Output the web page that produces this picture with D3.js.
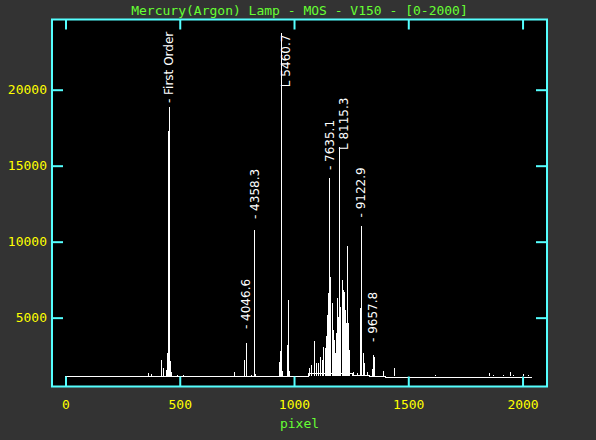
<!DOCTYPE html>
<html>
<head>
<meta charset="utf-8">
<script src="https://cdn.jsdelivr.net/npm/d3@7"></script>
<style>
  body { margin: 0; background: #333333; }
  svg { display: block; }
</style>
</head>
<body>
<div id="chart"></div>
<script>
// baseline of the extracted spectrum (pixel, counts)
var basePix    = [0,    480,  1065, 1255, 1330, 1400, 2040];
var baseCounts = [1130, 1160, 1350, 1250, 1150, 1120, 1120];

// emission lines (pixel, peak counts)
var linePix = [362, 375, 418, 428, 440, 446, 450, 452, 457, 463, 487, 514,
  737, 782, 788, 792, 810, 825, 828, 935, 938, 942, 946, 971, 975, 979,
  1067, 1073, 1089, 1096, 1106, 1114, 1121, 1128, 1136, 1140, 1143, 1147, 1150, 1155, 1159,
  1165, 1172, 1176, 1179, 1184, 1187, 1191, 1197, 1203, 1209, 1211, 1214, 1220, 1223,
  1226, 1231, 1235, 1238, 1241, 1260, 1274, 1290, 1293, 1301, 1306, 1318, 1340, 1344,
  1349, 1388, 1439, 1617, 1853, 1872, 1916, 1945, 1960, 2003, 2025];
var lineCounts = [1330, 1300, 2220, 1690, 1560, 2680, 17300, 18850, 2150, 1450, 1250, 1200,
  1450, 2200, 3330, 1600, 1250, 10800, 1300, 2100, 2800, 23700, 1500, 3200, 6160, 1500,
  1700, 1890, 3490, 2020, 2020, 2430, 2200, 3050, 2985, 3800, 5180, 4190, 6600, 14170, 7700,
  5970, 4190, 3500, 2680, 4000, 6300, 5070, 16200, 5720, 7480, 5200, 6820, 6710, 5500,
  4650, 9700, 4650, 3300, 2870, 1400, 1350, 5620, 11050, 2680, 2020, 1450, 1600, 2550,
  2430, 1490, 1720, 1230, 1340, 1250, 1250, 1410, 1250, 1280, 1230];

// line identifications
var labelText   = ["- First Order", "- 4046.6", "- 4358.3", "L 5460.7", "- 7635.1", "L 8115.3", "- 9122.9", "- 9657.8"];
var labelPix    = [452, 788, 825, 942, 1155, 1197, 1293, 1344];
var labelCounts = [19120, 4250, 11490, 20170, 14710, 16030, 11590, 3400];

var xTicks = [0, 500, 1000, 1500, 2000];
var yTicks = [5000, 10000, 15000, 20000];

var W = 596, H = 440;
var plotL = 52, plotR = 547, plotT = 19.5, plotB = 386.5;

var svg = d3.select("#chart").append("svg")
  .attr("width", W)
  .attr("height", H);

svg.append("rect").attr("width", W).attr("height", H).attr("fill", "#333333");
svg.append("rect")
  .attr("x", plotL).attr("y", plotT)
  .attr("width", plotR - plotL).attr("height", plotB - plotT)
  .attr("fill", "#000000");

var x = d3.scaleLinear().domain([-59, 2107]).range([plotL, plotR]);
var y = d3.scaleLinear().domain([470, 24620]).range([plotB, plotT]);

// spectrum
var base = basePix.map(function(p, i) { return [p, baseCounts[i]]; });
svg.append("path")
  .datum(base)
  .attr("d", d3.line().x(function(d) { return x(d[0]); }).y(function(d) { return Math.round(y(d[1])) + 0.5; }).curve(d3.curveStepAfter))
  .attr("fill", "none")
  .attr("stroke", "#ffffff")
  .attr("stroke-width", 1)
  .attr("shape-rendering", "crispEdges");

svg.append("g").selectAll("line")
  .data(linePix)
  .enter().append("line")
  .attr("x1", function(d) { return Math.round(x(d)) + 0.5; })
  .attr("x2", function(d) { return Math.round(x(d)) + 0.5; })
  .attr("y1", y(1150))
  .attr("y2", function(d, i) { return y(lineCounts[i]); })
  .attr("stroke", "#ffffff")
  .attr("stroke-width", 1)
  .attr("shape-rendering", "crispEdges");

// labels, rotated to read upwards
svg.append("g").selectAll("text")
  .data(labelText)
  .enter().append("text")
  .attr("transform", function(d, i) {
    var off = d.charAt(0) == "L" ? 9 : 4.5;
    return "translate(" + (x(labelPix[i]) + off) + "," + y(labelCounts[i]) + ") rotate(-90)";
  })
  .attr("font-family", "DejaVu Sans")
  .attr("font-size", 12)
  .attr("fill", "#ffffff")
  .text(function(d) { return d; });

// axes: ticks point inwards on all four sides
var cyan = "#55ffff";
function styleAxis(g) {
  g.select(".domain").remove();
  g.selectAll(".tick line").attr("stroke", cyan).attr("stroke-width", 2);
  g.selectAll("text")
    .attr("fill", "#ffff00")
    .attr("font-family", "DejaVu Sans Mono")
    .attr("font-size", 13);
}

svg.append("g").attr("transform", "translate(0," + plotB + ")")
  .call(d3.axisBottom(x).tickValues(xTicks).tickSizeInner(-10).tickSizeOuter(0).tickPadding(13).tickFormat(d3.format("d")))
  .call(styleAxis);
svg.append("g").attr("transform", "translate(0," + plotT + ")")
  .call(d3.axisTop(x).tickValues(xTicks).tickSizeInner(-10).tickSizeOuter(0).tickFormat(""))
  .call(styleAxis);
svg.append("g").attr("transform", "translate(" + plotL + ",0)")
  .call(d3.axisLeft(y).tickValues(yTicks).tickSizeInner(-11).tickSizeOuter(0).tickPadding(5).tickFormat(d3.format("d")))
  .call(styleAxis);
svg.append("g").attr("transform", "translate(" + plotR + ",0)")
  .call(d3.axisRight(y).tickValues(yTicks).tickSizeInner(-11).tickSizeOuter(0).tickFormat(""))
  .call(styleAxis);

svg.append("rect")
  .attr("x", plotL).attr("y", plotT)
  .attr("width", plotR - plotL).attr("height", plotB - plotT)
  .attr("fill", "none")
  .attr("stroke", cyan)
  .attr("stroke-width", 2);

// title and axis label
svg.append("text")
  .attr("x", (plotL + plotR) / 2).attr("y", 15)
  .attr("text-anchor", "middle")
  .attr("font-family", "DejaVu Sans Mono")
  .attr("font-size", 13)
  .attr("fill", "#66ff33")
  .text("Mercury(Argon) Lamp - MOS - V150 - [0-2000]");

svg.append("text")
  .attr("x", (plotL + plotR) / 2).attr("y", 428)
  .attr("text-anchor", "middle")
  .attr("font-family", "DejaVu Sans Mono")
  .attr("font-size", 13)
  .attr("fill", "#66ff33")
  .text("pixel");
</script>
</body>
</html>
